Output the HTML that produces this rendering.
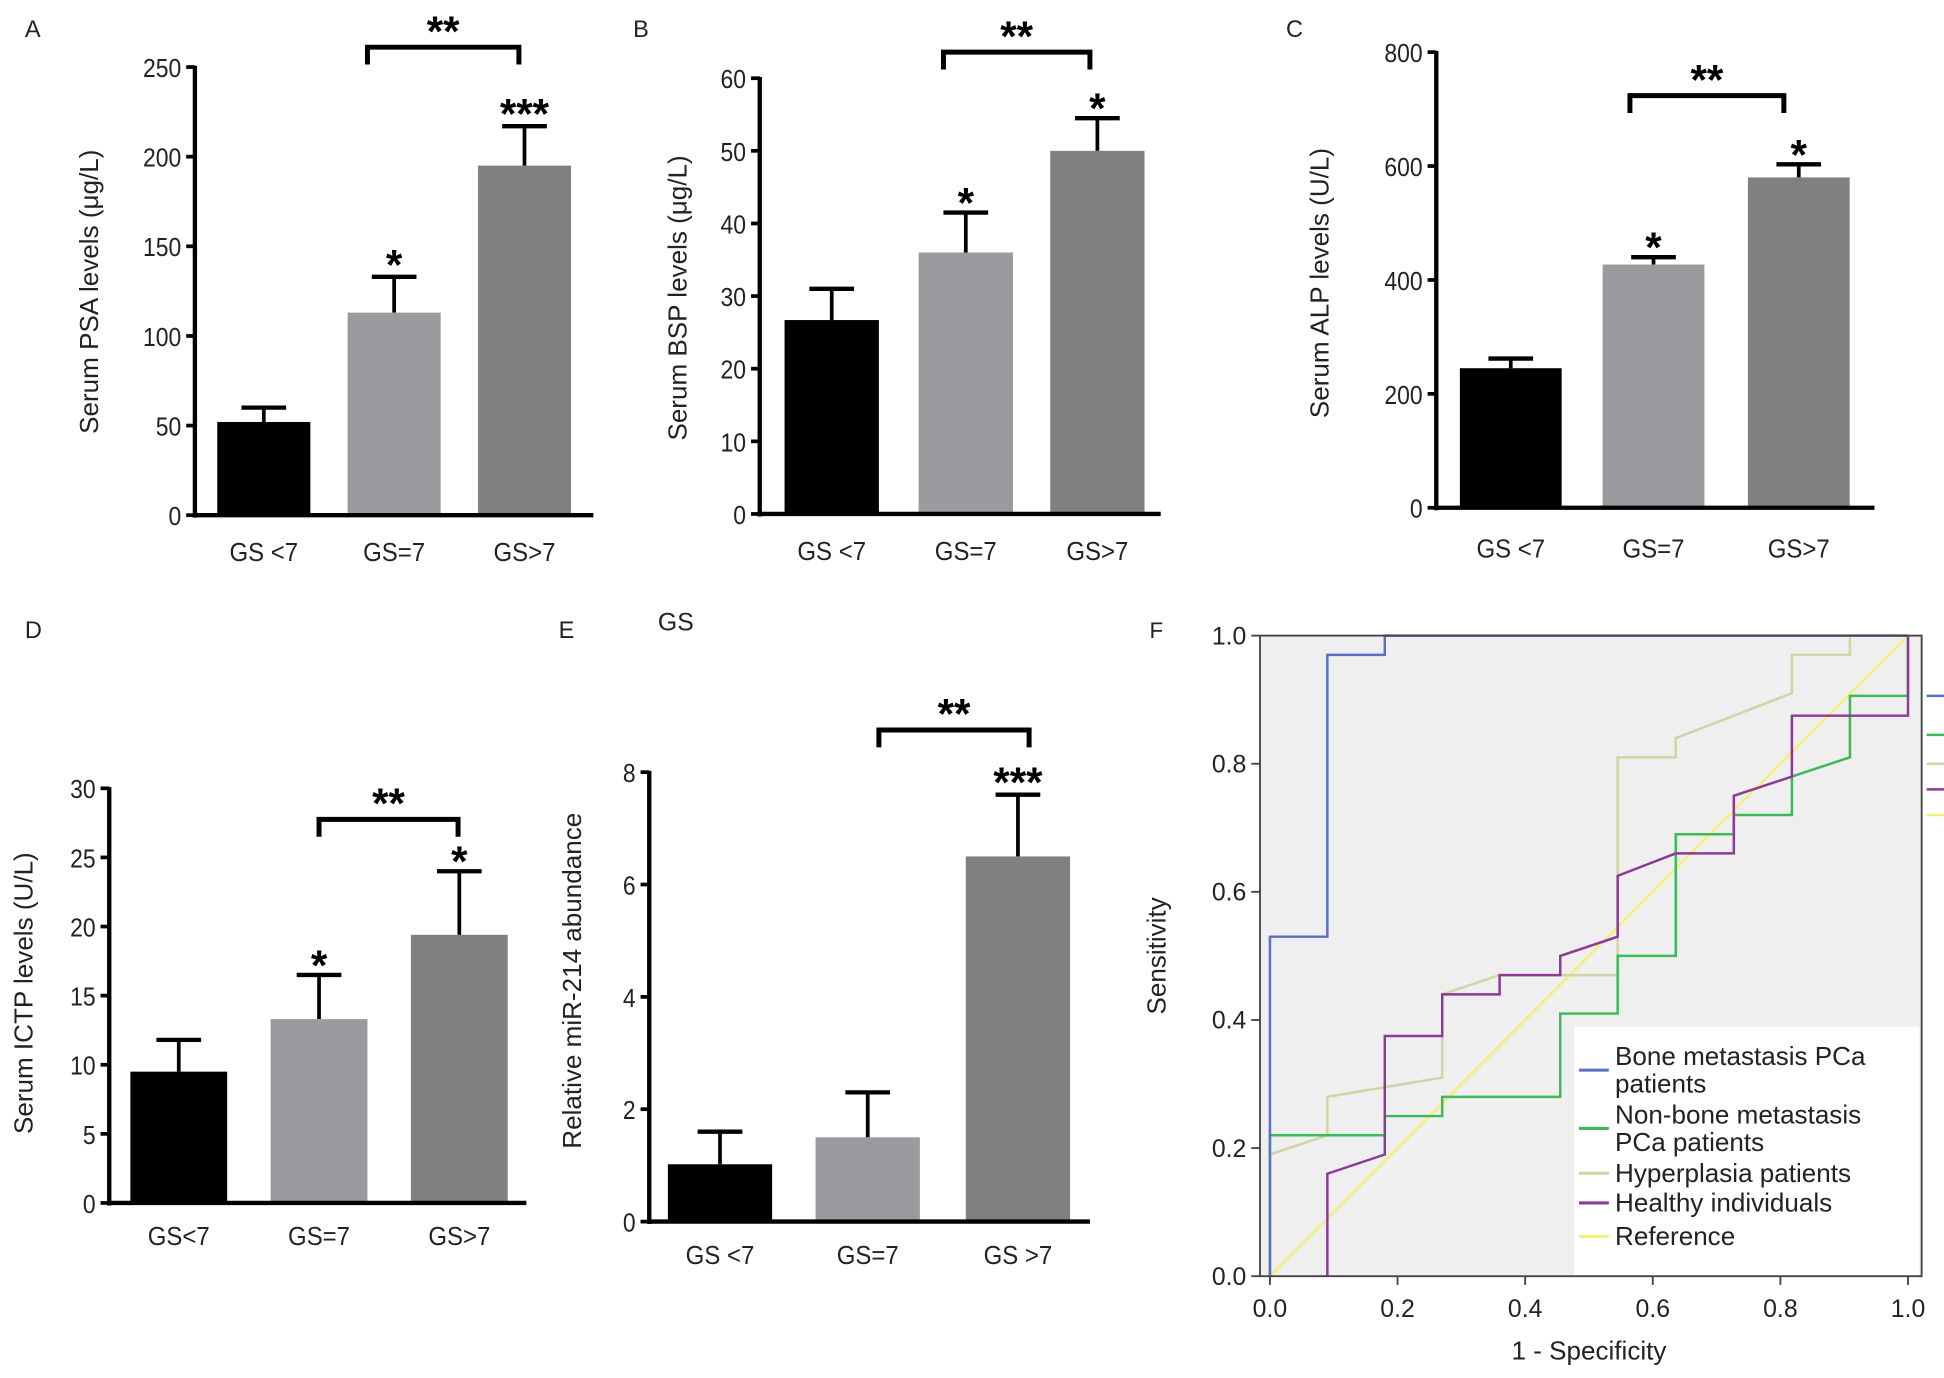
<!DOCTYPE html>
<html><head><meta charset="utf-8"><style>
html,body{margin:0;padding:0;background:#fff;}
svg{display:block;font-family:"Liberation Sans",Arial,sans-serif;}
</style></head><body>
<svg id="fig" width="1944" height="1378" viewBox="0 0 1566 1110" preserveAspectRatio="none" xmlns="http://www.w3.org/2000/svg"></svg>
<script>
// ---- Data ----
const categoriesA = ["GS <7","GS=7","GS>7"];
const meansA = [52,113,195];
const errsA = [60,133,217];
const ticksA = [0,50,100,150,200,250];

const categoriesB = ["GS <7","GS=7","GS>7"];
const meansB = [26.7,36,50];
const errsB = [31,41.5,54.5];
const ticksB = [0,10,20,30,40,50,60];

const categoriesC = ["GS <7","GS=7","GS>7"];
const meansC = [245,427,580];
const errsC = [262,440,603];
const ticksC = [0,200,400,600,800];

const categoriesD = ["GS<7","GS=7","GS>7"];
const meansD = [9.5,13.3,19.4];
const errsD = [11.8,16.5,24];
const ticksD = [0,5,10,15,20,25,30];

const categoriesE = ["GS <7","GS=7","GS >7"];
const meansE = [1.02,1.5,6.5];
const errsE = [1.6,2.3,7.6];
const ticksE = [0,2,4,6,8];

const rocTicks = [0,0.2,0.4,0.6,0.8,1.0];
const bluePts = [[0,0],[0,0.53],[0.09,0.53],[0.09,0.97],[0.18,0.97],[0.18,1],[1,1]];
const greenPts = [[0,0],[0,0.22],[0.18,0.22],[0.18,0.25],[0.27,0.25],[0.27,0.28],[0.455,0.28],[0.455,0.41],[0.545,0.41],[0.545,0.5],[0.636,0.5],[0.636,0.69],[0.727,0.69],[0.727,0.72],[0.818,0.72],[0.818,0.78],[0.909,0.81],[0.909,0.906],[1,0.906],[1,1]];
const beigePts = [[0,0],[0,0.19],[0.09,0.22],[0.09,0.28],[0.27,0.31],[0.27,0.44],[0.36,0.47],[0.545,0.47],[0.545,0.81],[0.636,0.81],[0.636,0.84],[0.818,0.91],[0.818,0.97],[0.909,0.97],[0.909,1],[1,1]];
const purplePts = [[0.09,0],[0.09,0.16],[0.18,0.19],[0.18,0.375],[0.27,0.375],[0.27,0.44],[0.36,0.44],[0.36,0.47],[0.455,0.47],[0.455,0.5],[0.545,0.53],[0.545,0.625],[0.636,0.66],[0.727,0.66],[0.727,0.75],[0.818,0.78],[0.818,0.875],[1,0.875],[1,1]];
const refPts = [[0,0],[1,1]];

const NS="http://www.w3.org/2000/svg";
const svg=document.getElementById('fig');
function el(tag,attrs,parent){const e=document.createElementNS(NS,tag);for(const k in attrs)e.setAttribute(k,attrs[k]);(parent||svg).appendChild(e);return e;}
function txt(s,attrs,parent){const e=el('text',attrs,parent);e.textContent=s;return e;}

const barColors=['#000000','#9a9a9f','#808080'];

function barPanel(cfg){
  const g=el('g',{});
  
  
  const ymax=cfg.ticks[cfg.ticks.length-1];
  const Y=v=>cfg.y0-(cfg.y0-cfg.yTop)*v/ymax;
  const L=txt(cfg.letter,{x:cfg.lx,y:cfg.ly,'font-size':19,fill:'#222'},g);
  
  const ya=el('line',{x1:cfg.ax,y1:cfg.yTop-1,x2:cfg.ax,y2:cfg.y0+2,stroke:'#000','stroke-width':3.5},g);
  
  cfg.ticks.forEach(t=>{
    el('line',{x1:cfg.ax-7,y1:Y(t),x2:cfg.ax,y2:Y(t),stroke:'#000','stroke-width':3},g);
    const tl=txt(String(t),{x:cfg.ax-11,y:Y(t)+8,'font-size':21,'text-anchor':'end',fill:'#222',transform:`translate(${cfg.ax-11},0) scale(0.88,1) translate(${-(cfg.ax-11)},0)`},g);
    
  });
  const yl=txt(cfg.ylabel,{x:0,y:0,'font-size':21,'text-anchor':'middle',fill:'#222',transform:`translate(${cfg.ylx},${cfg.yly}) rotate(-90)`},g);
  
  cfg.means.forEach((m,i)=>{
    const x=cfg.bx[i], w=cfg.bw, cx=x+w/2;
    el('line',{x1:cx,y1:Y(m),x2:cx,y2:Y(cfg.errs[i]),stroke:'#000','stroke-width':3},g);
    el('line',{x1:cx-18,y1:Y(cfg.errs[i]),x2:cx+18,y2:Y(cfg.errs[i]),stroke:'#000','stroke-width':3.5},g);
    const r=el('rect',{x:x,y:Y(m),width:w,height:cfg.y0-Y(m),fill:barColors[i]},g);
    
    const xl=txt(cfg.cats[i],{x:cx,y:cfg.xly,'font-size':21,'text-anchor':'middle',fill:'#222',transform:`translate(${cx},0) scale(0.92,1) translate(${-cx},0)`},g);
    
    if(cfg.stars[i]){
      const s=txt(cfg.stars[i],{x:cx,y:Y(cfg.errs[i])-cfg.starGap,'font-size':34,'font-weight':'bold','text-anchor':'middle',fill:'#000'},g);
      
    }
  });
  const xa=el('line',{x1:cfg.ax-1,y1:cfg.y0,x2:cfg.axEnd,y2:cfg.y0,stroke:'#000','stroke-width':3.5},g);
  
  const b1=cfg.brX[0], b2=cfg.brX[1];
  const br=el('path',{d:`M${b1},${cfg.brY+14}V${cfg.brY}H${b2}V${cfg.brY+14}`,fill:'none',stroke:'#000','stroke-width':4},g);
  
  const bs=txt('**',{x:(b1+b2)/2,y:cfg.brY-1,'font-size':34,'font-weight':'bold','text-anchor':'middle',fill:'#000'},g);
  
}

barPanel({name:'panel-a-psa',letter:'A',lx:20,ly:30,ax:157,axEnd:478,yTop:54,y0:415,ticks:ticksA,means:meansA,errs:errsA,cats:categoriesA,
  bx:[175,280,385],bw:75,ylabel:'Serum PSA levels (\u03bcg/L)',ylx:79,yly:235,xly:452,stars:['','*','***'],starGap:-2,brY:38,brX:[296,418]});
barPanel({name:'panel-b-bsp',letter:'B',lx:510,ly:30,ax:612,axEnd:935,yTop:63,y0:414,ticks:ticksB,means:meansB,errs:errsB,cats:categoriesB,
  bx:[632,740,846],bw:76,ylabel:'Serum BSP levels (\u03bcg/L)',ylx:553,yly:240,xly:451,stars:['','*','*'],starGap:-4,brY:42,brX:[760,878]});
barPanel({name:'panel-c-alp',letter:'C',lx:1036,ly:30,ax:1157,axEnd:1510,yTop:42,y0:409,ticks:ticksC,means:meansC,errs:errsC,cats:categoriesC,
  bx:[1176,1291,1408],bw:82,ylabel:'Serum ALP levels (U/L)',ylx:1070,yly:228,xly:449,stars:['','*','*'],starGap:-4,brY:77,brX:[1313,1437]});
barPanel({name:'panel-d-ictp',letter:'D',lx:20,ly:514,ax:88,axEnd:424,yTop:635,y0:969,ticks:ticksD,means:meansD,errs:errsD,cats:categoriesD,
  bx:[105,218,331],bw:78,ylabel:'Serum ICTP levels (U/L)',ylx:26,yly:800,xly:1003,stars:['','*','*'],starGap:-4,brY:660,brX:[257,369]});
barPanel({name:'panel-e-mir214',letter:'E',lx:450,ly:514,ax:523,axEnd:878,yTop:622,y0:984,ticks:ticksE,means:meansE,errs:errsE,cats:categoriesE,
  bx:[538,657,778],bw:84,ylabel:'Relative miR-214 abundance',ylx:468,yly:790,xly:1018,stars:['','','***'],starGap:-2,brY:588,brX:[708,829]});
const gsE=txt('GS',{x:530,y:508,'font-size':20,fill:'#222'});


// ---- ROC panel F ----
(function(){
  const g=el('g',{});
  
  
  const X=v=>1023+(1537-1023)*v, Y=v=>1028-(1028-512)*v;
  const L=txt('F',{x:926,y:514,'font-size':18,fill:'#222'},g);
  
  const bg=el('rect',{x:1015,y:512,width:533,height:516,fill:'#efefef'},g);
  
  rocTicks.forEach(t=>{
    el('line',{x1:1008,y1:Y(t),x2:1015,y2:Y(t),stroke:'#444','stroke-width':1.5},g);
    const yt=txt(t.toFixed(1),{x:1004,y:Y(t)+7,'font-size':20,'text-anchor':'end',fill:'#222'},g);
    
    el('line',{x1:X(t),y1:1028,x2:X(t),y2:1035,stroke:'#444','stroke-width':1.5},g);
    const xt=txt(t.toFixed(1),{x:X(t),y:1061,'font-size':20,'text-anchor':'middle',fill:'#222'},g);
    
  });
  const series=[[refPts,'#f5ef7a','reference-line'],[beigePts,'#d2d4a6','hyperplasia-curve'],[greenPts,'#3cba5a','non-bone-metastasis-curve'],[purplePts,'#8c3a96','healthy-curve'],[bluePts,'#5a70c8','bone-metastasis-curve']];
  series.forEach(([pts,c,n])=>{
    const p=el('polyline',{points:pts.map(q=>X(q[0])+','+Y(q[1])).join(' '),fill:'none',stroke:c,'stroke-width':2},g);
    
  });
  const lg=el('g',{},g);
  
  el('rect',{x:1268,y:827,width:278,height:200,fill:'#fff'},lg);
  const entries=[['#5a70c8',862,['Bone metastasis PCa','patients'],858],['#3cba5a',909,['Non-bone metastasis','PCa patients'],905],['#d2d4a6',945,['Hyperplasia patients'],952],['#8c3a96',969,['Healthy individuals'],976],['#f5ef7a',996,['Reference'],1003]];
  entries.forEach(([c,ly,lines,ty])=>{
    const eg=el('g',{},lg);
    
    el('line',{x1:1272,y1:ly,x2:1296,y2:ly,stroke:c,'stroke-width':2.5},eg);
    lines.forEach((s,k)=>txt(s,{x:1301,y:ty+k*22,'font-size':21,fill:'#222'},eg));
  });
  el('rect',{x:1015,y:512,width:533,height:516,fill:'none',stroke:'#444','stroke-width':1.5},g);
  [[0.906,'#5a70c8'],[0.845,'#3cba5a'],[0.8,'#d2d4a6'],[0.76,'#8c3a96'],[0.72,'#f5ef7a']].forEach(([v,c])=>el('line',{x1:1552,y1:Y(v),x2:1566,y2:Y(v),stroke:c,'stroke-width':2},g));
  const yl=txt('Sensitivity',{x:0,y:0,'font-size':21,'text-anchor':'middle',fill:'#222',transform:'translate(939,770) rotate(-90)'},g);
  
  const xl=txt('1 - Specificity',{x:1280,y:1095,'font-size':21,'text-anchor':'middle',fill:'#222'},g);
  
})();
</script>
</body></html>
